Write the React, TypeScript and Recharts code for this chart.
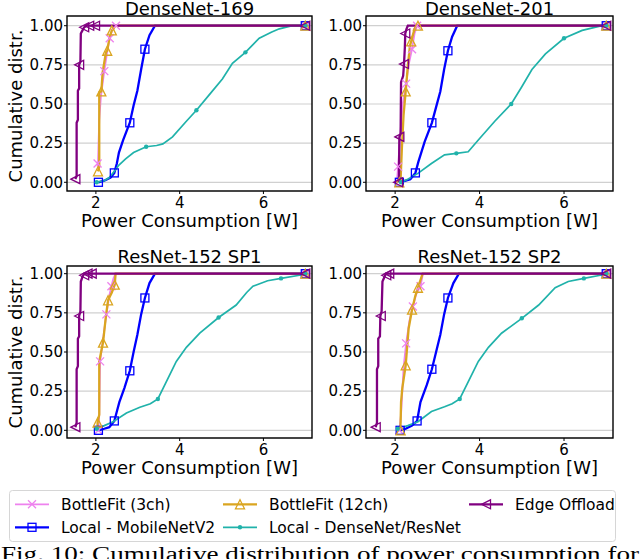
import React from 'react';
import { LineChart, Line, XAxis, YAxis, CartesianGrid } from 'recharts';

type Pt = [number, number];

// series order = matplotlib plot order (legend is column-major)
const seriesNames = ['BottleFit (3ch)', 'Local - MobileNetV2', 'BottleFit (12ch)', 'Local - DenseNet/ResNet', 'Edge Offload'];
const seriesColors = ['#ee82ee', '#0000ff', '#daa520', '#20b2aa', '#800080'];
const seriesMarkers = ['x', 's', '^', 'o', '<'];
const seriesWidths = [1.8, 2.3, 2.3, 1.7, 2.3];

const panelTitles = ['DenseNet-169', 'DenseNet-201', 'ResNet-152 SP1', 'ResNet-152 SP2'];
const xTicks = [2, 4, 6];
const yTicks = [0, 0.25, 0.5, 0.75, 1];
const xDomain = [1.31, 7.16];

// ---- DenseNet-169
const bf3_169: Pt[] = [[2.04, 0.1], [2.05, 0.12], [2.08, 0.4], [2.12, 0.55], [2.2, 0.71], [2.28, 0.85], [2.33, 0.92], [2.4, 0.98], [2.47, 1.0], [7.0, 1.0]];
const bf3_169m: Pt[] = [[2.04, 0.12], [2.2, 0.71], [2.33, 0.92], [2.48, 1.0], [7.0, 1.0]];
const mnv2_169: Pt[] = [[2.06, 0.0], [2.2, 0.01], [2.35, 0.03], [2.44, 0.06], [2.5, 0.12], [2.55, 0.19], [2.65, 0.27], [2.81, 0.38], [2.9, 0.49], [2.99, 0.585], [3.08, 0.72], [3.17, 0.85], [3.28, 0.94], [3.41, 1.0], [7.0, 1.0]];
const mnv2_169m: Pt[] = [[2.06, 0.0], [2.44, 0.06], [2.81, 0.38], [3.17, 0.85], [7.0, 1.0]];
const bf12_169: Pt[] = [[2.05, 0.07], [2.08, 0.1], [2.08, 0.575], [2.13, 0.58], [2.16, 0.7], [2.24, 0.83], [2.27, 0.84], [2.33, 0.93], [2.38, 0.97], [2.42, 0.98], [2.46, 1.0], [7.0, 1.0]];
const bf12_169m: Pt[] = [[2.05, 0.07], [2.13, 0.58], [2.27, 0.84], [2.38, 0.97], [7.0, 1.0]];
const local_169: Pt[] = [[2.02, 0.0], [2.1, 0.005], [2.2, 0.01], [2.32, 0.03], [2.44, 0.07], [2.55, 0.11], [2.71, 0.15], [2.9, 0.19], [3.2, 0.227], [3.45, 0.235], [3.6, 0.245], [3.83, 0.29], [4.16, 0.39], [4.4, 0.46], [4.71, 0.56], [5.02, 0.66], [5.26, 0.76], [5.57, 0.83], [5.9, 0.92], [6.2, 0.96], [6.38, 0.98], [6.69, 1.0], [7.0, 1.0]];
const local_169m: Pt[] = [[2.02, 0.0], [3.2, 0.227], [4.4, 0.46], [5.57, 0.83], [7.0, 1.0]];
const edge_169: Pt[] = [[1.51, 0.02], [1.54, 0.04], [1.54, 0.38], [1.57, 0.4], [1.57, 0.585], [1.6, 0.6], [1.6, 0.75], [1.63, 0.77], [1.64, 0.95], [1.68, 0.97], [1.72, 0.99], [1.78, 1.0], [7.0, 1.0]];
const edge_169m: Pt[] = [[1.51, 0.02], [1.6, 0.75], [1.72, 0.99], [1.84, 1.0], [1.98, 1.0], [7.0, 1.0]];

// ---- DenseNet-201
const bf3_201: Pt[] = [[2.04, 0.0], [2.07, 0.1], [2.12, 0.3], [2.18, 0.5], [2.26, 0.63], [2.32, 0.75], [2.4, 0.85], [2.46, 0.95], [2.52, 1.0], [7.0, 1.0]];
const bf3_201m: Pt[] = [[2.07, 0.1], [2.26, 0.63], [2.4, 0.85], [2.52, 1.0], [7.0, 1.0]];
const mnv2_201: Pt[] = [[2.1, 0.0], [2.25, 0.01], [2.36, 0.02], [2.48, 0.06], [2.55, 0.13], [2.7, 0.26], [2.87, 0.38], [2.97, 0.48], [3.07, 0.58], [3.16, 0.72], [3.25, 0.84], [3.35, 0.93], [3.47, 1.0], [7.0, 1.0]];
const mnv2_201m: Pt[] = [[2.1, 0.0], [2.48, 0.06], [2.87, 0.38], [3.25, 0.84], [7.0, 1.0]];
const bf12_201: Pt[] = [[2.1, 0.0], [2.13, 0.02], [2.16, 0.22], [2.2, 0.43], [2.25, 0.58], [2.3, 0.74], [2.35, 0.87], [2.38, 0.9], [2.45, 0.97], [2.5, 1.0], [7.0, 1.0]];
const bf12_201m: Pt[] = [[2.1, 0.0], [2.25, 0.58], [2.38, 0.9], [2.54, 1.0], [7.0, 1.0]];
const local_201: Pt[] = [[2.14, 0.0], [2.3, 0.02], [2.54, 0.057], [2.86, 0.12], [3.17, 0.175], [3.45, 0.185], [3.73, 0.195], [3.97, 0.27], [4.36, 0.39], [4.75, 0.5], [5.0, 0.61], [5.24, 0.72], [5.56, 0.82], [6.0, 0.92], [6.43, 0.97], [6.9, 1.0], [7.0, 1.0]];
const local_201m: Pt[] = [[2.14, 0.0], [3.45, 0.185], [4.75, 0.5], [6.0, 0.92], [7.0, 1.0]];
const edge_201: Pt[] = [[2.07, 0.0], [2.09, 0.02], [2.1, 0.29], [2.13, 0.31], [2.14, 0.64], [2.19, 0.68], [2.21, 0.755], [2.23, 0.86], [2.24, 0.95], [2.27, 0.98], [2.3, 1.0], [7.0, 1.0]];
const edge_201m: Pt[] = [[2.07, 0.0], [2.1, 0.29], [2.21, 0.755], [2.24, 0.95], [7.0, 1.0]];

// ---- ResNet-152 SP1
const bf3_sp1: Pt[] = [[2.06, 0.0], [2.08, 0.1], [2.1, 0.44], [2.18, 0.6], [2.25, 0.74], [2.32, 0.86], [2.37, 0.92], [2.42, 0.97], [2.47, 1.0], [7.0, 1.0]];
const bf3_sp1m: Pt[] = [[2.06, 0.0], [2.1, 0.44], [2.25, 0.74], [2.37, 0.92], [7.0, 1.0]];
const mnv2_sp1: Pt[] = [[2.06, 0.0], [2.2, 0.01], [2.32, 0.02], [2.44, 0.06], [2.5, 0.12], [2.56, 0.18], [2.68, 0.27], [2.81, 0.38], [2.9, 0.5], [2.99, 0.61], [3.08, 0.74], [3.17, 0.845], [3.28, 0.94], [3.41, 1.0], [7.0, 1.0]];
const mnv2_sp1m: Pt[] = [[2.06, 0.0], [2.44, 0.06], [2.81, 0.38], [3.17, 0.845], [7.0, 1.0]];
const bf12_sp1: Pt[] = [[2.04, 0.0], [2.04, 0.05], [2.08, 0.1], [2.08, 0.44], [2.17, 0.56], [2.24, 0.73], [2.29, 0.83], [2.38, 0.88], [2.45, 0.93], [2.47, 1.0], [7.0, 1.0]];
const bf12_sp1m: Pt[] = [[2.04, 0.05], [2.17, 0.56], [2.29, 0.83], [2.45, 0.93], [7.0, 1.0]];
const local_sp1: Pt[] = [[2.02, 0.01], [2.2, 0.03], [2.41, 0.055], [2.73, 0.11], [3.05, 0.147], [3.3, 0.17], [3.48, 0.2], [3.68, 0.31], [3.92, 0.44], [4.16, 0.53], [4.48, 0.62], [4.93, 0.72], [5.35, 0.8], [5.6, 0.88], [5.75, 0.92], [6.1, 0.955], [6.42, 0.97], [6.86, 0.99], [7.0, 1.0]];
const local_sp1m: Pt[] = [[2.02, 0.01], [3.48, 0.2], [4.93, 0.72], [6.42, 0.97], [7.0, 1.0]];
const edge_sp1: Pt[] = [[1.51, 0.02], [1.54, 0.05], [1.54, 0.39], [1.57, 0.41], [1.57, 0.585], [1.6, 0.6], [1.6, 0.73], [1.63, 0.76], [1.64, 0.95], [1.68, 0.98], [1.72, 1.0], [7.0, 1.0]];
const edge_sp1m: Pt[] = [[1.51, 0.02], [1.6, 0.73], [1.72, 0.99], [1.8, 1.0], [1.9, 1.0], [7.0, 1.0]];

// ---- ResNet-152 SP2
const bf3_sp2: Pt[] = [[2.1, 0.0], [2.14, 0.1], [2.2, 0.4], [2.26, 0.555], [2.34, 0.7], [2.42, 0.79], [2.5, 0.87], [2.6, 0.92], [2.66, 1.0], [7.0, 1.0]];
const bf3_sp2m: Pt[] = [[2.1, 0.0], [2.26, 0.555], [2.42, 0.79], [2.6, 0.92], [7.0, 1.0]];
const mnv2_sp2: Pt[] = [[2.12, 0.0], [2.25, 0.01], [2.4, 0.03], [2.52, 0.06], [2.6, 0.18], [2.75, 0.29], [2.87, 0.39], [2.97, 0.5], [3.07, 0.61], [3.16, 0.74], [3.25, 0.845], [3.38, 0.94], [3.51, 1.0], [7.0, 1.0]];
const mnv2_sp2m: Pt[] = [[2.12, 0.0], [2.52, 0.06], [2.87, 0.39], [3.25, 0.845], [7.0, 1.0]];
const bf12_sp2: Pt[] = [[2.12, 0.0], [2.13, 0.05], [2.14, 0.18], [2.17, 0.27], [2.25, 0.415], [2.32, 0.65], [2.4, 0.77], [2.48, 0.86], [2.54, 0.91], [2.65, 1.0], [7.0, 1.0]];
const bf12_sp2m: Pt[] = [[2.13, 0.0], [2.25, 0.415], [2.4, 0.77], [2.54, 0.91], [7.0, 1.0]];
const local_sp2: Pt[] = [[2.06, 0.01], [2.3, 0.03], [2.54, 0.055], [2.86, 0.12], [3.17, 0.15], [3.35, 0.17], [3.53, 0.2], [3.73, 0.31], [3.97, 0.44], [4.21, 0.53], [4.52, 0.62], [5.0, 0.715], [5.4, 0.8], [5.79, 0.91], [6.1, 0.95], [6.47, 0.97], [6.86, 0.99], [7.0, 1.0]];
const local_sp2m: Pt[] = [[2.06, 0.01], [3.53, 0.2], [5.0, 0.715], [6.47, 0.97], [7.0, 1.0]];
const edge_sp2: Pt[] = [[1.54, 0.02], [1.57, 0.05], [1.57, 0.39], [1.6, 0.41], [1.6, 0.585], [1.64, 0.6], [1.65, 0.73], [1.68, 0.76], [1.7, 0.95], [1.75, 0.98], [1.78, 1.0], [7.0, 1.0]];
const edge_sp2m: Pt[] = [[1.54, 0.02], [1.66, 0.73], [1.79, 0.99], [1.86, 1.0], [7.0, 1.0]];

const curves169 = [bf3_169, mnv2_169, bf12_169, local_169, edge_169];
const marks169 = [bf3_169m, mnv2_169m, bf12_169m, local_169m, edge_169m];
const curves201 = [bf3_201, mnv2_201, bf12_201, local_201, edge_201];
const marks201 = [bf3_201m, mnv2_201m, bf12_201m, local_201m, edge_201m];
const curvesSp1 = [bf3_sp1, mnv2_sp1, bf12_sp1, local_sp1, edge_sp1];
const marksSp1 = [bf3_sp1m, mnv2_sp1m, bf12_sp1m, local_sp1m, edge_sp1m];
const curvesSp2 = [bf3_sp2, mnv2_sp2, bf12_sp2, local_sp2, edge_sp2];
const marksSp2 = [bf3_sp2m, mnv2_sp2m, bf12_sp2m, local_sp2m, edge_sp2m];

const FONT = 'DejaVu Sans';
const toPts = (a: Pt[]) => a.map(([x, y]) => ({ x, y }));

const Marker = ({ kind, cx, cy, color }: { kind: string; cx: number; cy: number; color: string }) => {
  const s = 4.5;
  if (kind === 'x')
    return (
      <g stroke={color} strokeWidth={1.3}>
        <line x1={cx - 4} y1={cy - 4} x2={cx + 4} y2={cy + 4} />
        <line x1={cx - 4} y1={cy + 4} x2={cx + 4} y2={cy - 4} />
      </g>
    );
  if (kind === 's') return <rect x={cx - 4} y={cy - 4} width={8} height={8} fill="none" stroke={color} strokeWidth={1.3} />;
  if (kind === '^')
    return <polygon points={`${cx},${cy - s} ${cx - s},${cy + s} ${cx + s},${cy + s}`} fill="none" stroke={color} strokeWidth={1.3} />;
  if (kind === '<')
    return <polygon points={`${cx - s},${cy} ${cx + s},${cy - s} ${cx + s},${cy + s}`} fill="none" stroke={color} strokeWidth={1.3} />;
  return <circle cx={cx} cy={cy} r={2.2} fill={color} />;
};

const tickStyle = { fill: '#000', fontSize: 15, fontFamily: FONT };

type PanelProps = {
  left: number; top: number; height: number; marginTop: number; marginRight: number;
  yWidth: number; xHeight: number; yDomain: number[]; curves: Pt[][]; marks: Pt[][];
};

const Panel = ({ left, top, height, marginTop, marginRight, yWidth, xHeight, yDomain, curves, marks }: PanelProps) => (
  <div style={{ position: 'absolute', left, top }}>
    <LineChart width={320} height={height} margin={{ top: marginTop, right: marginRight, bottom: 0, left: 0 }}>
      <CartesianGrid vertical={false} stroke="#d0d0d0" strokeWidth={1.2} />
      <XAxis type="number" dataKey="x" domain={xDomain} ticks={xTicks} allowDataOverflow interval={0}
        height={xHeight} axisLine={false} tickSize={3} tickMargin={3} tickLine={{ stroke: '#000' }} tick={tickStyle} />
      <YAxis type="number" dataKey="y" domain={yDomain} ticks={yTicks} allowDataOverflow interval={0}
        width={yWidth} axisLine={false} tickSize={3} tickMargin={1} tickLine={{ stroke: '#000' }} tick={tickStyle}
        tickFormatter={(v: number) => v.toFixed(2)} />
      {curves.flatMap((c, i) => [
        <Line key={`c${i}`} data={toPts(c)} dataKey="y" type="linear" stroke={seriesColors[i]}
          strokeWidth={seriesWidths[i]} dot={false} activeDot={false} isAnimationActive={false} />,
        <Line key={`m${i}`} data={toPts(marks[i])} dataKey="y" stroke="none" activeDot={false} isAnimationActive={false}
          dot={(p: any) => <Marker key={`d${i}-${p.index}`} kind={seriesMarkers[i]} cx={p.cx} cy={p.cy} color={seriesColors[i]} />} />,
      ])}
    </LineChart>
  </div>
);

const legendSlots = [
  { s: 0, col: 0, row: 0 }, { s: 2, col: 1, row: 0 }, { s: 4, col: 2, row: 0 },
  { s: 1, col: 0, row: 1 }, { s: 3, col: 1, row: 1 },
];
const legendCols = [15, 223, 469];
const legendRows = [504.3, 527.3];

export default function App() {
  const frames = [
    [67, 16, 245, 175], [366, 16, 247, 175], [67, 266, 245, 172], [366, 266, 247, 172],
  ];
  return (
    <div style={{ position: 'absolute', left: 0, top: 0, width: 640, height: 559, background: '#fff', overflow: 'hidden' }}>
      <Panel left={0} top={0} height={245} marginTop={16} marginRight={8} yWidth={67} xHeight={54} yDomain={[-0.0556, 1.062]} curves={curves169} marks={marks169} />
      <Panel left={320} top={0} height={245} marginTop={16} marginRight={27} yWidth={46} xHeight={54} yDomain={[-0.0556, 1.062]} curves={curves201} marks={marks201} />
      <Panel left={0} top={245} height={245} marginTop={21} marginRight={8} yWidth={67} xHeight={52} yDomain={[-0.049, 1.049]} curves={curvesSp1} marks={marksSp1} />
      <Panel left={320} top={245} height={245} marginTop={21} marginRight={27} yWidth={46} xHeight={52} yDomain={[-0.049, 1.049]} curves={curvesSp2} marks={marksSp2} />
      <svg width={640} height={559} style={{ position: 'absolute', left: 0, top: 0, pointerEvents: 'none' }}>
        {frames.map(([x, y, w, h], i) => (
          <rect key={i} x={x} y={y} width={w} height={h} fill="none" stroke="#000" strokeWidth={1.4} />
        ))}
        <g fontFamily={FONT} fontSize={18} fill="#000" textAnchor="middle">
          <text x={189.5} y={14.5}>{panelTitles[0]}</text>
          <text x={489.5} y={14.5}>{panelTitles[1]}</text>
          <text x={189.5} y={262.5}>{panelTitles[2]}</text>
          <text x={489.5} y={262.5}>{panelTitles[3]}</text>
          <text x={189.5} y={227}>Power Consumption [W]</text>
          <text x={489.5} y={227}>Power Consumption [W]</text>
          <text x={189.5} y={474}>Power Consumption [W]</text>
          <text x={489.5} y={474}>Power Consumption [W]</text>
          <text transform="translate(22,106) rotate(-90)">Cumulative distr.</text>
          <text transform="translate(22,352) rotate(-90)">Cumulative distr.</text>
        </g>
        <rect x={9.5} y={490.5} width={606} height={51} rx={3} fill="#fff" fillOpacity={0.8} stroke="#d6d6d6" strokeWidth={1} />
        {legendSlots.map(({ s, col, row }) => {
          const x0 = legendCols[col];
          const y0 = legendRows[row];
          return (
            <g key={s}>
              <line x1={x0} y1={y0} x2={x0 + 34} y2={y0} stroke={seriesColors[s]} strokeWidth={seriesWidths[s]} />
              <Marker kind={seriesMarkers[s]} cx={x0 + 17} cy={y0} color={seriesColors[s]} />
              <text x={x0 + 46} y={y0 + 5.6} fontFamily={FONT} fontSize={15.5} fill="#000">{seriesNames[s]}</text>
            </g>
          );
        })}
        <text x={1} y={561} fontFamily="Liberation Serif" fontSize={20} fill="#000" textLength={638} lengthAdjust="spacingAndGlyphs">
          Fig. 10: Cumulative distribution of power consumption for
        </text>
      </svg>
    </div>
  );
}
